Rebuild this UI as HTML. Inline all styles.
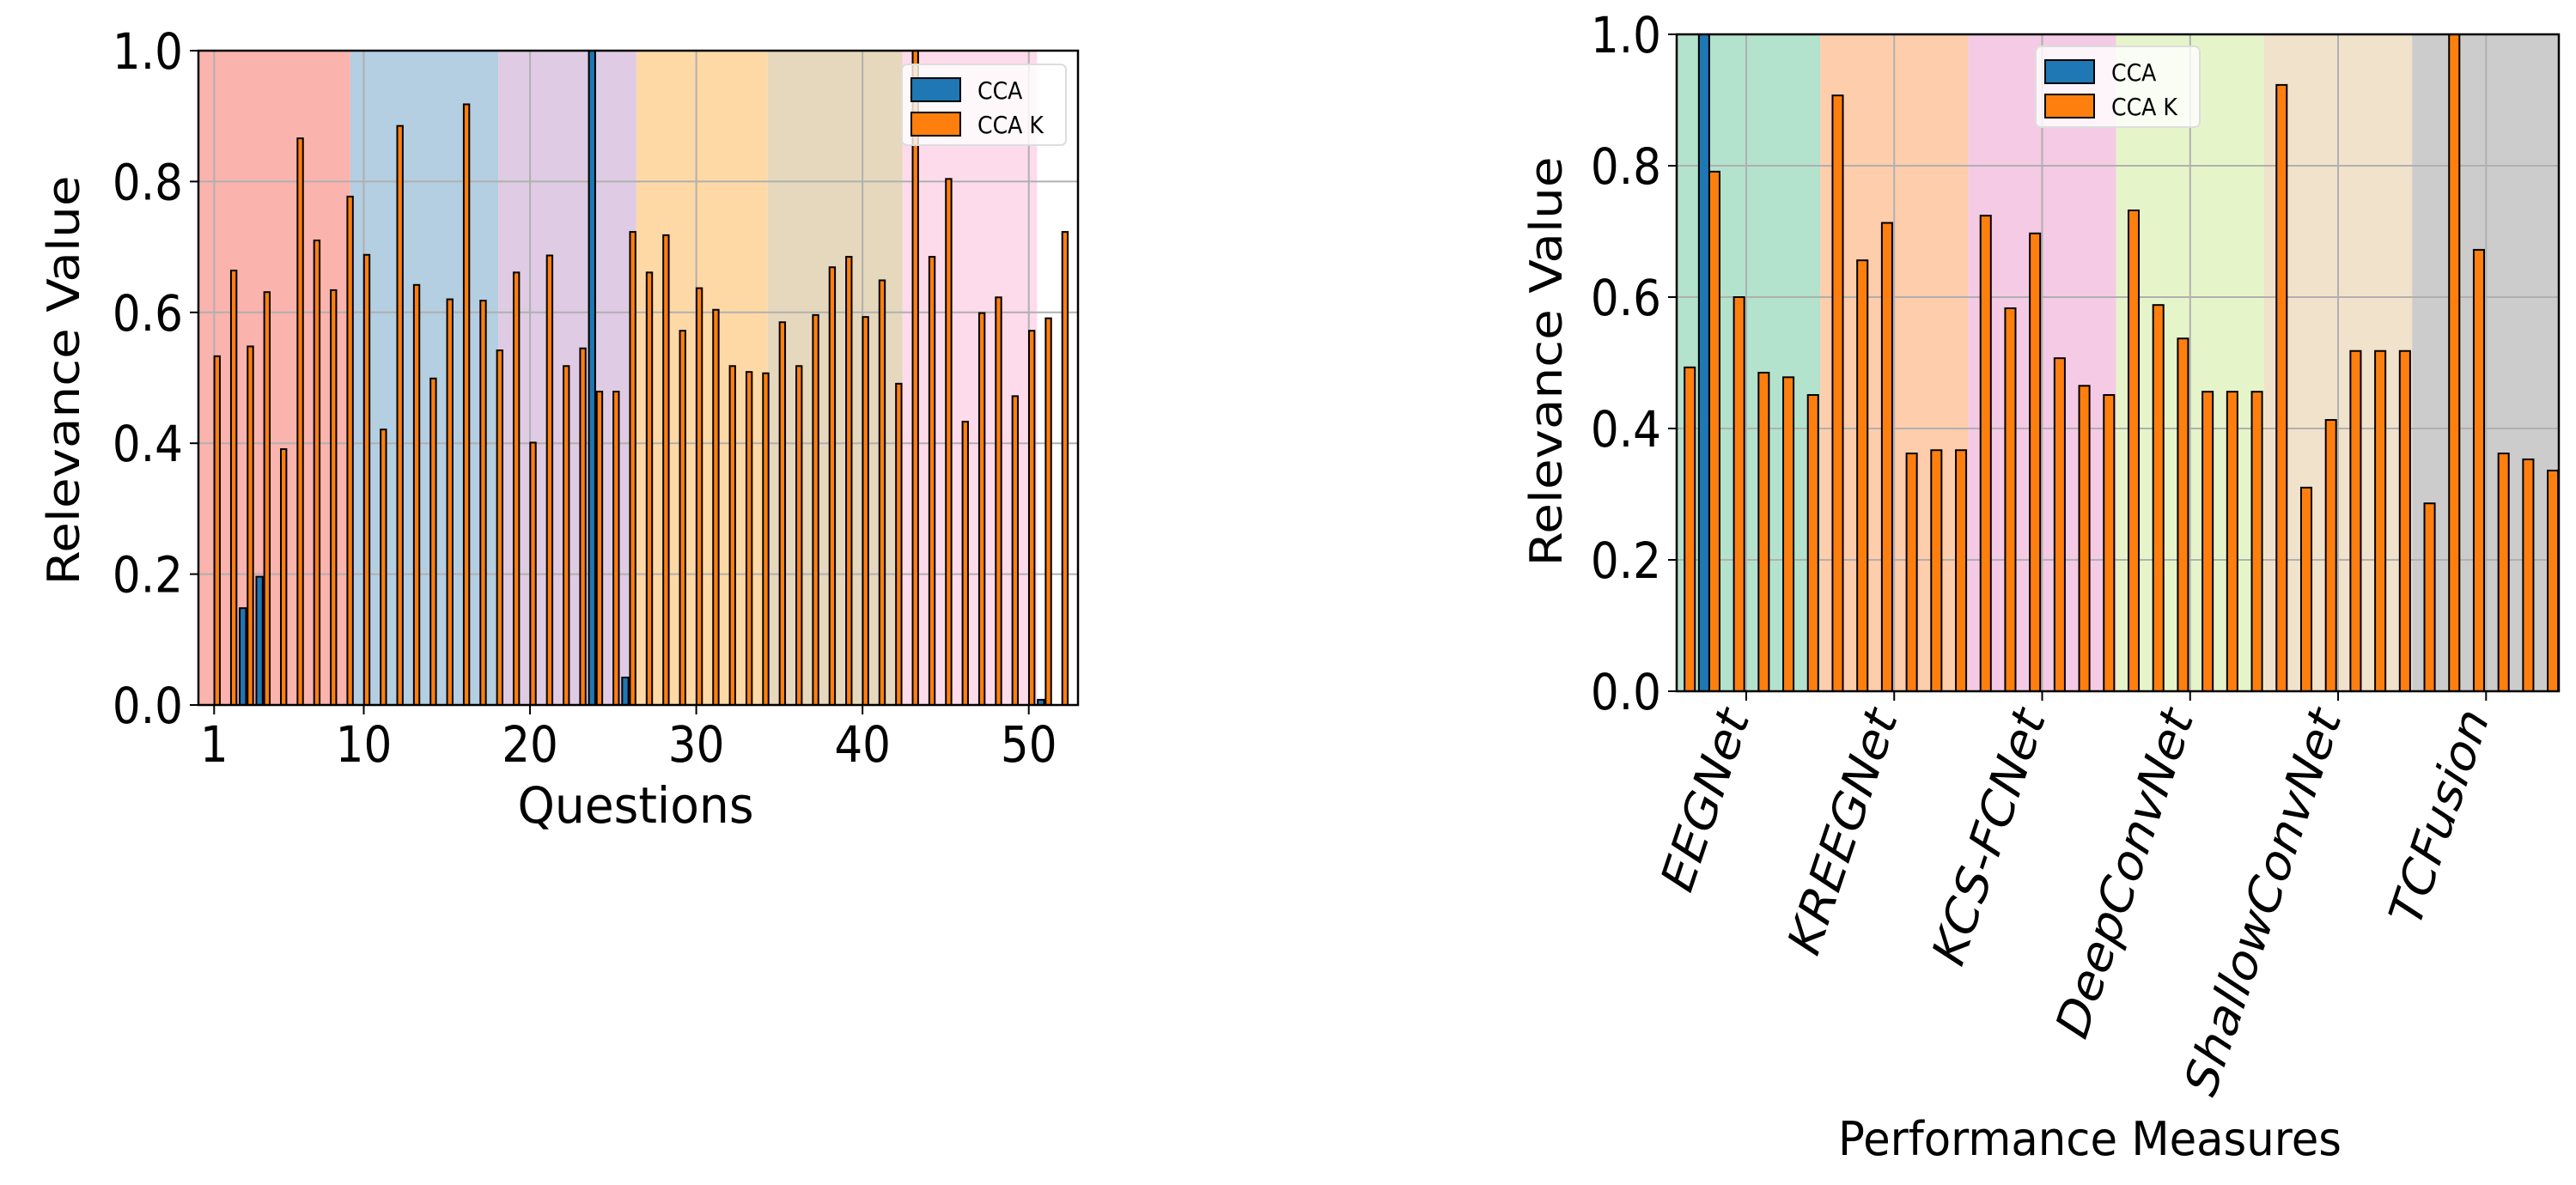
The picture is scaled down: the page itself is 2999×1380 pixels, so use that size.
<!DOCTYPE html>
<html><head><meta charset="utf-8"><style>
html,body{margin:0;padding:0;background:#fff;}
svg{display:block;font-family:"DejaVu Sans","Liberation Sans",sans-serif;}
</style></head><body>
<svg id="root" width="2999" height="1380" viewBox="0 0 2999 1380" xmlns="http://www.w3.org/2000/svg">
<g id="left"></g>
<g id="right"></g>
</svg>
<script>
// ---- Left chart data ----
const qCategories = Array.from({length:52},(_,i)=>i+1);
const qCcaK = [0.533,0.664,0.548,0.631,0.391,0.866,0.710,0.634,0.777,0.688,0.421,0.885,0.642,0.499,0.620,0.918,0.618,0.542,0.661,0.401,0.687,0.518,0.545,0.479,0.479,0.723,0.661,0.718,0.572,0.637,0.604,0.518,0.509,0.507,0.585,0.518,0.596,0.669,0.685,0.593,0.649,0.491,1.0,0.685,0.804,0.433,0.599,0.623,0.472,0.572,0.591,0.723];
const qCcaIdx = [3,4,24,26,51];
const qCcaVals = [0.148,0.196,1.0,0.042,0.008];
const qXTicks = [1,10,20,30,40,50];
const qBands = [[0,9.19],[9.19,18.1],[18.1,26.4],[26.4,34.3],[34.3,42.4],[42.4,50.5]];
const qBandColors = ['#fab3ad','#b4cee2','#dfcbe3','#fed9a6','#e6d8bc','#fddbeb'];
// ---- Right chart data ----
const mLabels = ['EEGNet','KREEGNet','KCS-FCNet','DeepConvNet','ShallowConvNet','TCFusion'];
const mCcaK = [0.493,0.791,0.600,0.485,0.478,0.451, 0.907,0.656,0.713,0.362,0.367,0.367, 0.724,0.583,0.697,0.507,0.465,0.451, 0.732,0.588,0.537,0.456,0.456,0.456, 0.923,0.310,0.413,0.518,0.518,0.518, 0.286,1.0,0.672,0.362,0.353,0.336];
const mCcaIdx = [1];
const mCcaVals = [1.0];
const mBandColors = ['#b3e2cd','#fdcdac','#f4cae4','#e6f5c9','#f1e2cc','#cccccc'];
const yTicks = [0,0.2,0.4,0.6,0.8,1.0];

const NS='http://www.w3.org/2000/svg';
function mk(parent,tag,attrs){const e=document.createElementNS(NS,tag);for(const k in attrs)e.setAttribute(k,attrs[k]);parent.appendChild(e);return e;}

function drawChart(g,o){
  const X=v=>o.x0+(v-o.xmin)/(o.xmax-o.xmin)*(o.x1-o.x0);
  const Y=v=>o.y1-v*(o.y1-o.y0);
  o.bands.forEach((b,i)=>{
    const a=Math.max(X(b[0]),o.x0), c=Math.min(X(b[1]),o.x1);
    const r=mk(g,'rect',{x:a,y:o.y0,width:c-a,height:o.y1-o.y0,fill:o.bandColors[i]});
    
    
  });
  o.xticks.forEach(t=>{const l=mk(g,'line',{x1:X(t),x2:X(t),y1:o.y0,y2:o.y1,stroke:'#b0b0b0','stroke-width':2});
    });
  yTicks.forEach(t=>{const l=mk(g,'line',{x1:o.x0,x2:o.x1,y1:Y(t),y2:Y(t),stroke:'#b0b0b0','stroke-width':2});
    });
  o.orange.forEach((v,i)=>{
    const c=o.cats[i]+o.offO, w=o.wO;
    const r=mk(g,'rect',{x:X(c-w/2),y:Y(v),width:X(c+w/2)-X(c-w/2),height:Y(0)-Y(v),fill:'#ff7f0e',stroke:'#000','stroke-width':2});
    
  });
  o.blueIdx.forEach((ci,j)=>{
    const v=o.blueVals[j], c=ci+o.offB, w=o.wB;
    const r=mk(g,'rect',{x:X(c-w/2),y:Y(v),width:X(c+w/2)-X(c-w/2),height:Y(0)-Y(v),fill:'#1f77b4',stroke:'#000','stroke-width':2});
    
  });
  const f=mk(g,'rect',{x:o.x0,y:o.y0,width:o.x1-o.x0,height:o.y1-o.y0,fill:'none',stroke:'#000','stroke-width':2.5});
  
  yTicks.forEach(t=>{
    mk(g,'line',{x1:o.x0-10,x2:o.x0,y1:Y(t),y2:Y(t),stroke:'#000','stroke-width':2});
    const tx=mk(g,'text',{x:0,y:0,'text-anchor':'end','font-size':58,fill:'#000',transform:`translate(${o.x0-18} ${Y(t)+21}) scale(0.89 1)`});
    tx.textContent=t.toFixed(1);
    
  });
  o.xticks.forEach((t,i)=>{
    mk(g,'line',{x1:X(t),x2:X(t),y1:o.y1,y2:o.y1+11,stroke:'#000','stroke-width':2});
    const lab=o.xlabels[i];
    let tx;
    if(o.rot){
      const ax=X(t)+4, ay=o.y1+30;
      tx=mk(g,'text',{x:0,y:0,'text-anchor':'end','font-size':58,'font-style':'italic',transform:`translate(${ax} ${ay}) scale(0.92 1) rotate(-70)`});
    } else {
      tx=mk(g,'text',{x:0,y:0,'text-anchor':'middle','font-size':58,transform:`translate(${X(t)} ${o.y1+66}) scale(0.89 1)`});
    }
    tx.textContent=lab;
    
  });
  const L=o.legend;
  const lb=mk(g,'rect',{x:L.x,y:L.y,width:191,height:94,rx:6,fill:'#fff','fill-opacity':0.8,stroke:'#ddd','stroke-width':2});
  
  [['CCA','#1f77b4'],['CCA K','#ff7f0e']].forEach((e,i)=>{
    const gy=L.y+16+i*40;
    const p=mk(g,'rect',{x:L.x+11,y:gy,width:57,height:27,fill:e[1],stroke:'#000','stroke-width':2});
    
    const t=mk(g,'text',{x:0,y:0,'font-size':28,transform:`translate(${L.x+88} ${gy+24}) scale(0.9 1)`});t.textContent=e[0];
    
  });
  const yl=mk(g,'text',{x:0,y:0,'text-anchor':'middle','font-size':58,transform:`translate(${o.ylab[0]} ${o.ylab[1]}) scale(0.89 1) rotate(-90)`});
  yl.textContent='Relevance Value';
  const xl=mk(g,'text',{x:0,y:0,'text-anchor':'middle','font-size':o.xfs,transform:`translate(${o.xlab[0]} ${o.xlab[1]}) scale(0.95 1)`});
  xl.textContent=o.xtitle;
}

drawChart(document.getElementById('left'),{
  x0:231,x1:1255,y0:59,y1:821,xmin:0.055,xmax:52.96,
  bands:qBands,bandColors:qBandColors,xticks:qXTicks,xlabels:qXTicks.map(String),
  cats:qCategories,orange:qCcaK,offO:0.18,wO:0.33,blueIdx:qCcaIdx,blueVals:qCcaVals,offB:-0.27,wB:0.38,
  legend:{x:1050,y:75},ylab:[92,443],xlab:[740,958],xtitle:'Questions',xfs:58,rot:false
});
drawChart(document.getElementById('right'),{
  x0:1952,x1:2979,y0:40,y1:805,xmin:-0.32,xmax:35.45,
  bands:mLabels.map((_,i)=>[-0.5+6*i,5.5+6*i]),bandColors:mBandColors,
  xticks:mLabels.map((_,i)=>2.5+6*i),xlabels:mLabels,
  cats:mCcaK.map((_,i)=>i),orange:mCcaK,offO:0.21,wO:0.42,blueIdx:mCcaIdx,blueVals:mCcaVals,offB:-0.21,wB:0.42,
  legend:{x:2370,y:54},ylab:[1818,421],xlab:[2433,1345],xtitle:'Performance Measures',xfs:54,rot:true
});
</script>
</body></html>
